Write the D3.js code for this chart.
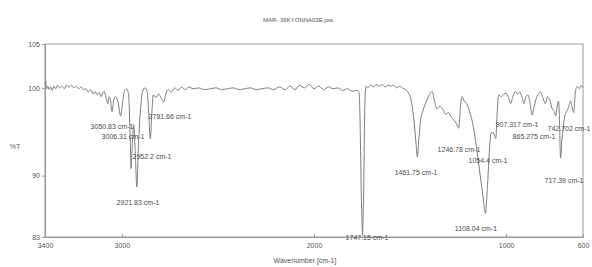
<!DOCTYPE html>
<html>
<head>
<meta charset="utf-8">
<script src="https://cdn.jsdelivr.net/npm/d3@7/dist/d3.min.js"></script>
<style>
  html, body { margin: 0; padding: 0; background: #fff; }
  svg { display: block; font-family: "Liberation Sans", Arial, sans-serif; }
</style>
</head>
<body>
<svg id="chart" width="592" height="267"></svg>
<script>
// ---- data ----
const title = "MAR- 36KYONNA03E.jws";
const xLabel = "Wavenumber [cm-1]";
const yLabel = "%T";
const xTicks = [3400, 3000, 2000, 1000, 600];
const yTicks = [105, 100, 90, 83];

const wavenumbers = [
  3400,3396,3392,3385,3378,3370,3362,3354,3345,3335,3325,3312,3300,3288,3275,3262,3250,3238,3225,3212,
  3200,3188,3175,3162,3150,3140,3128,3118,3108,3100,3092,3085,3078,3072,3066,3060,3051,3044,3034,3022,
  3006,2996,2986,2975,2965,2958,2952,2945,2938,2930,2922,2913,2903,2892,2880,2868,2860,2852,2845,2836,
  2822,2808,2795,2782,2772,2758,2742,2725,2708,
  2690,2670,2650,2630,2600,2570,2540,2510,2480,2450,2420,2390,2360,2330,2300,2270,2240,2210,2180,2150,
  2125,2100,2075,2050,2025,2000,1975,1950,1925,1900,1875,1850,1825,1800,1780,1765,
  1758,1753,1749,1747,1745,1741,1736,1730,
  1720,1705,1690,1675,1660,1645,1630,1615,1600,1585,1570,1555,1540,1525,1510,1497,
  1485,1475,1468,1462,1455,1445,1430,1415,1400,1385,1372,1360,1345,1330,1315,1300,1285,1270,1258,1247,
  1238,1230,1218,1205,1190,1170,1150,1132,1118,1108,1098,1088,1078,1068,1060,1054,1046,1038,
  1025,1012,1000,988,977,965,952,940,928,917,907,897,887,875,865,855,845,832,820,808,
  796,785,772,760,749,742,735,727,722,717,710,703,695,685,675,665,655,648,640,630,620,610,600
];
const transmittance = [
  100.4,100.8,99.9,100.2,99.8,100.1,99.7,100.2,99.9,100.3,100.0,100.2,99.9,100.3,100.1,100.3,100.0,100.2,99.9,100.1,
  99.8,99.9,99.5,99.8,99.3,99.6,99.2,99.5,99.0,99.4,99.6,99.1,98.5,98.2,99.0,98.7,97.3,98.4,99.0,98.6,
  96.8,98.4,99.7,99.9,99.2,95.5,90.8,93.8,95.8,92.5,88.7,93.8,97.5,99.6,100.0,99.5,97.0,94.2,96.8,99.2,
  98.9,99.3,98.8,98.4,99.3,99.8,99.5,100.0,99.7,
  100.1,99.8,100.1,99.9,100.0,99.8,99.9,100.0,99.8,99.9,100.0,99.8,99.9,100.0,99.8,99.9,100.0,99.8,100.1,99.8,
  100.2,99.8,100.3,100.0,100.4,99.9,100.2,99.8,100.1,99.9,100.0,99.7,99.9,99.6,99.7,99.5,
  93.5,87.0,84.0,83.2,84.5,89.0,97.5,100.2,
  100.0,100.3,100.1,100.4,100.2,100.4,100.1,100.3,100.2,100.3,100.0,100.2,100.0,99.8,99.5,98.8,
  97.3,95.2,93.4,92.1,94.0,96.3,97.6,98.5,99.2,99.6,98.4,97.6,97.9,97.6,97.0,97.2,96.6,96.3,95.9,95.4,
  97.8,99.0,98.5,98.2,97.3,95.5,92.5,89.5,87.2,85.7,88.5,92.5,94.9,94.9,94.5,94.2,97.5,99.2,
  99.0,99.3,99.4,98.9,98.2,99.0,99.6,99.3,99.5,98.9,98.2,99.0,99.2,98.2,96.9,97.8,98.7,99.3,99.5,98.8,
  98.2,99.0,98.6,97.6,97.3,96.8,97.8,98.5,96.0,92.0,94.0,95.4,96.8,97.3,97.8,98.5,97.6,97.2,99.5,100.2,99.9,100.3,100.0
];

const peakTexts = [
  "3050.83 cm-1","3006.31 cm-1","2781.66 cm-1","2952.2 cm-1","2921.83 cm-1",
  "1747.15 cm-1","1461.75 cm-1","1246.78 cm-1","1054.4 cm-1","1108.04 cm-1",
  "907.317 cm-1","865.275 cm-1","742.702 cm-1","717.39 cm-1"
];

// ---- layout (positions of annotation text, pixels) ----
const labelPos = [
  [112,129],[123,139],[170,119],[152,159],[138,205],
  [367,240],[416,175],[459,152],[488,163],[476,231],
  [517,127],[534,139],[569,131],[564,183]
];

const svg = d3.select("#chart");
const x = d3.scaleLinear().domain([3400, 600]).range([45, 583]);
const y = d3.scaleLinear().domain([83, 105]).range([237, 44]);

const axisColor = "#9a9a9a";
const textColor = "#555";

// frame
svg.append("rect")
  .attr("x", x(3400)).attr("y", y(105))
  .attr("width", x(600) - x(3400)).attr("height", y(83) - y(105))
  .attr("fill", "none").attr("stroke", axisColor).attr("stroke-width", 1);

// axes
const xAxis = svg.append("g").attr("transform", `translate(0,${y(83)})`)
  .call(d3.axisBottom(x).tickValues(xTicks).tickFormat(d3.format("d")).tickSizeInner(-3).tickSizeOuter(0).tickPadding(6));
const yAxis = svg.append("g").attr("transform", `translate(${x(3400)},0)`)
  .call(d3.axisLeft(y).tickValues(yTicks).tickFormat(d3.format("d")).tickSizeInner(3).tickSizeOuter(0).tickPadding(2));
[xAxis, yAxis].forEach(g => {
  g.select(".domain").attr("stroke", axisColor);
  g.selectAll(".tick line").attr("stroke", axisColor);
  g.selectAll(".tick text").attr("fill", textColor).attr("font-size", 7)
    .attr("font-family", "Liberation Sans, Arial, sans-serif");
});

// spectrum
const pts = wavenumbers.map((w, i) => [w, transmittance[i]]);
svg.append("path")
  .datum(pts)
  .attr("fill", "none")
  .attr("stroke", "#7d7d7d")
  .attr("stroke-width", 1)
  .attr("stroke-linejoin", "round")
  .attr("d", d3.line().x(d => x(d[0])).y(d => y(d[1])).curve(d3.curveMonotoneX));

// peak labels
svg.append("g").selectAll("text")
  .data(peakTexts)
  .join("text")
  .attr("x", (d, i) => labelPos[i][0])
  .attr("y", (d, i) => labelPos[i][1])
  .attr("text-anchor", "middle")
  .attr("font-size", 7)
  .attr("fill", "#4a4a4a")
  .text(d => d);

// title and axis titles
svg.append("text").attr("x", 298).attr("y", 22).attr("text-anchor", "middle")
  .attr("font-size", 6).attr("fill", textColor).text(title);
svg.append("text").attr("x", 305).attr("y", 263).attr("text-anchor", "middle")
  .attr("font-size", 7).attr("fill", textColor).text(xLabel);
svg.append("text").attr("x", 15).attr("y", 149).attr("text-anchor", "middle")
  .attr("font-size", 7).attr("fill", textColor).text(yLabel);
</script>
</body>
</html>
